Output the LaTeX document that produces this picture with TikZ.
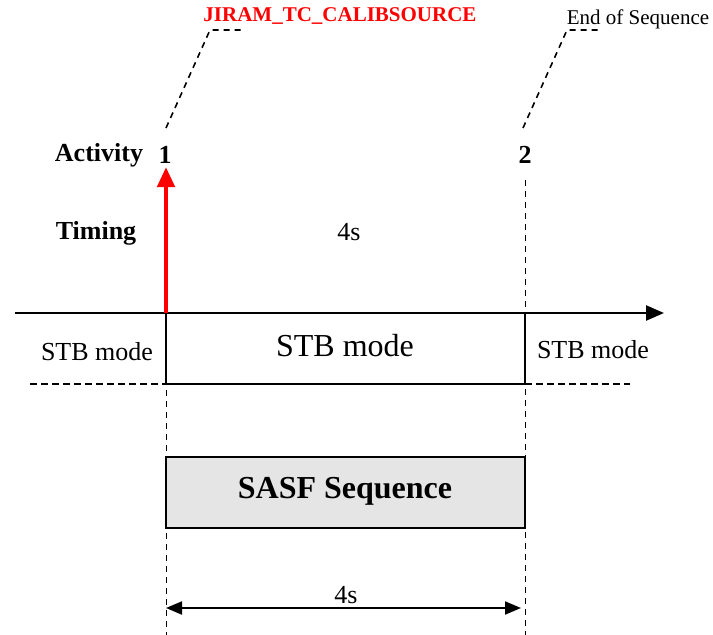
\documentclass[tikz,border=0pt]{standalone}
\usepackage{fontspec}
\setmainfont{Liberation Serif}
\usetikzlibrary{arrows.meta}
\begin{document}
\begin{tikzpicture}[x=1pt,y=-1pt,
  txt/.style={inner sep=0pt, anchor=center},
  smallf/.style={font=\fontsize{26}{30}\selectfont},
  bigf/.style={font=\fontsize{32}{38}\selectfont},
  boldf/.style={font=\fontsize{26}{30}\selectfont\bfseries},
  notef/.style={font=\fontsize{21}{25}\selectfont},
  guide/.style={dashed, dash pattern=on 6pt off 5pt, line width=0.9pt},
  leader/.style={dash pattern=on 6pt off 5pt, line width=1.6pt},
  hdash/.style={dash pattern=on 7pt off 4pt, line width=1.1pt}]
\useasboundingbox (0,0) rectangle (713,635);
% coordinates
\coordinate (axL) at (15,313);
\coordinate (axR) at (664,313);
\coordinate (t1) at (166,313);
\coordinate (t2) at (525,313);
\coordinate (g1top) at (166,313);
\coordinate (g1bot) at (166,635);
\coordinate (g2top) at (525,180);
\coordinate (g2bot) at (525,635);
\coordinate (hdL1) at (30,384);
\coordinate (hdR1) at (166,384);
\coordinate (hdL2) at (525,384);
\coordinate (hdR2) at (630,384);
\coordinate (ld1a) at (166,128);
\coordinate (ld1b) at (210,30);
\coordinate (ld1c) at (245,30);
\coordinate (ld2a) at (523,128);
\coordinate (ld2b) at (567,30);
\coordinate (ld2c) at (602,30);
\coordinate (redtip) at (166,167);
\coordinate (dimL) at (166,608);
\coordinate (dimR) at (521,608);
% texts
\node[txt, boldf] (act) at (99,155) {Activity};
\node[txt, boldf] (n1) at (165,155) {1};
\node[txt, boldf] (n2) at (525,155) {2};
\node[txt, boldf] (tim) at (96,233) {Timing};
\node[txt, smallf] (dur) at (349,232) {4s};
\node[txt, text=red, font=\fontsize{21}{25}\selectfont\bfseries] (tc) at (340,16) {JIRAM\_TC\_CALIBSOURCE};
\node[txt, notef] (eos) at (638,19) {End of Sequence};
% boxes
\draw[line width=1.1pt] (166,313) rectangle (525,384);
\node[txt, bigf] (stbc) at (345,346) {STB mode};
\node[txt, smallf] (stbl) at (97,352) {STB mode};
\node[txt, smallf] (stbr) at (593,350) {STB mode};
\draw[line width=1.6pt, fill=black!10] (166,457) rectangle (525,528);
\node[txt, font=\fontsize{32}{38}\selectfont\bfseries] (sasf) at (345,491) {SASF Sequence};
% guides
\draw[guide] (g1top) -- (g1bot);
\draw[guide] (g2top) -- (g2bot);
\draw[hdash] (hdL1) -- (hdR1);
\draw[hdash] (hdL2) -- (hdR2);
% leaders
\draw[leader] (ld1a) -- (ld1b) -- (ld1c);
\draw[leader] (ld2a) -- (ld2b) -- (ld2c);
% axis
\draw[line width=2.4pt, -{Triangle[length=18pt,width=15pt]}] (axL) -- (axR);
% red arrow
\draw[red, line width=4.5pt, -{Triangle[length=20pt,width=17pt]}] (t1) -- (redtip);
% dimension
\draw[line width=2pt, {Triangle[length=16pt,width=13pt]}-{Triangle[length=16pt,width=13pt]}] (dimL) -- (dimR);
\node[txt, smallf] (dur2) at (346,595) {4s};
\end{tikzpicture}
\end{document}
